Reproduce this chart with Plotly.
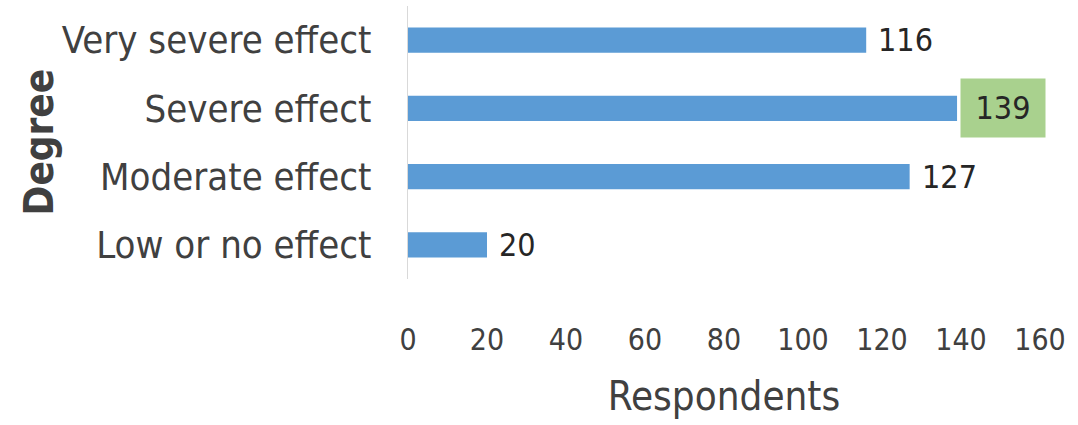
import plotly.graph_objects as go

categories = ["Low or no effect", "Moderate effect", "Severe effect", "Very severe effect"]
values = [20, 127, 139, 116]
highlight = "Severe effect"
x_ticks = [0, 20, 40, 60, 80, 100, 120, 140, 160]

FONT = "Liberation Sans Narrow, DejaVu Sans Condensed, Arial Narrow, sans-serif"
TXT = "#404040"

fig = go.Figure(go.Bar(
    y=categories, x=values, orientation="h",
    marker=dict(color="#5b9bd5", line=dict(width=0)),
    hoverinfo="skip",
))

for c, v in zip(categories, values):
    if c == highlight:
        fig.add_annotation(x=v, y=c, text=str(v), showarrow=False,
                           xanchor="left", yanchor="middle", xshift=3,
                           bgcolor="#a9d18e", width=70, height=44, borderpad=7,
                           font=dict(family=FONT, size=32, color="#262626"))
    else:
        fig.add_annotation(x=v, y=c, text=str(v), showarrow=False,
                           xanchor="left", yanchor="middle", xshift=10,
                           font=dict(family=FONT, size=32, color="#262626"))

# y-axis title placed as a rotated annotation
fig.add_annotation(xref="paper", yref="paper", x=0, y=0.5, xshift=-370,
                   text="<b>Degree</b>", textangle=-90, showarrow=False,
                   xanchor="center", yanchor="middle",
                   font=dict(family=FONT, size=40, color=TXT))

fig.update_layout(
    width=1078, height=425,
    margin=dict(l=408, r=38, t=6, b=146),
    plot_bgcolor="white", paper_bgcolor="white",
    bargap=0.63, showlegend=False,
    font=dict(family=FONT, color=TXT),
    xaxis=dict(range=[0, 160], tickvals=x_ticks, showgrid=False, zeroline=False,
               showline=False, ticks="", tickfont=dict(size=30, color=TXT),
               ticklabelstandoff=40,
               title=dict(text="Respondents", font=dict(size=40, color=TXT), standoff=25)),
    yaxis=dict(categoryorder="array", categoryarray=categories, showgrid=False,
               showline=True, linecolor="#d9d9d9", linewidth=1, ticks="",
               tickfont=dict(size=38, color=TXT), ticklabelstandoff=28),
)

fig.write_html("out.html")
